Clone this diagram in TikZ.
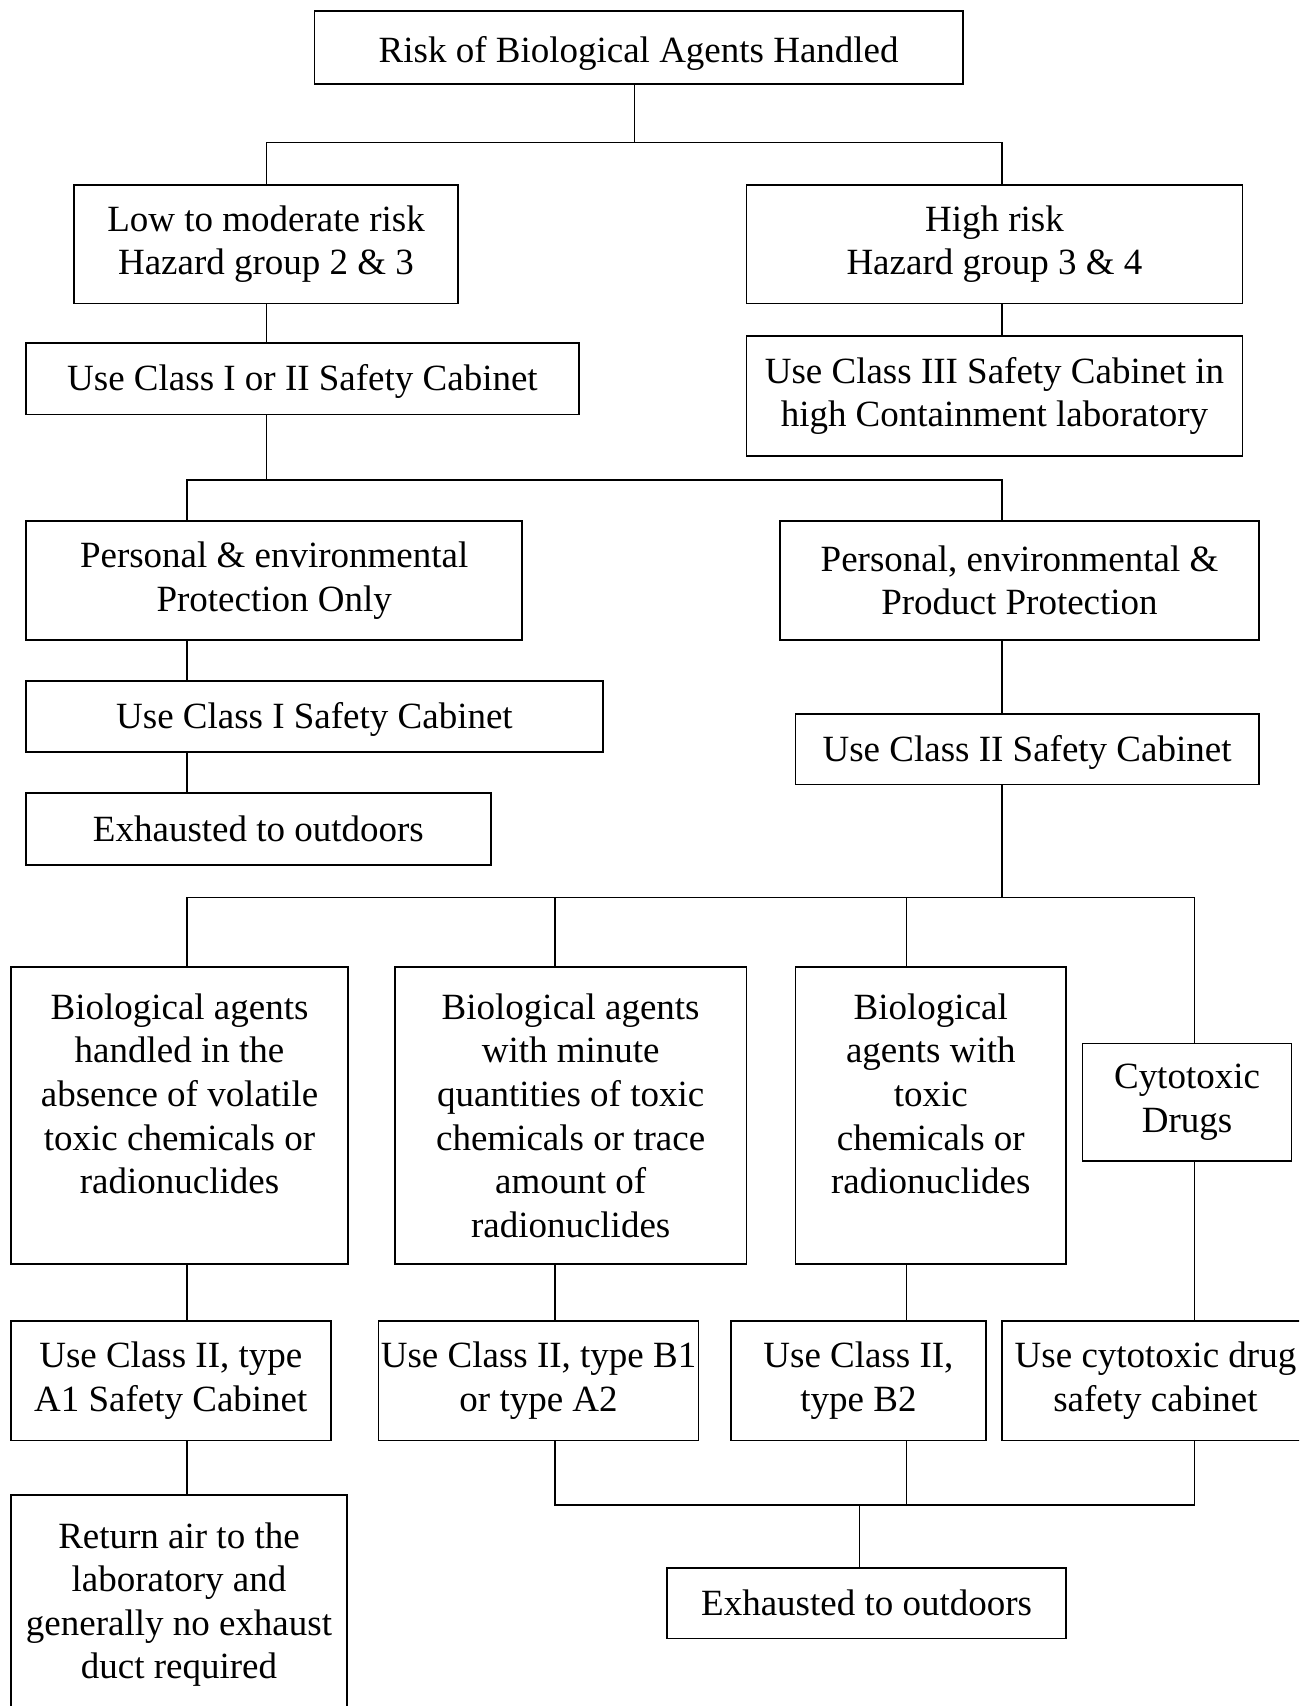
\documentclass[tikz,border=0pt]{standalone}
\usepackage{fontspec}
\setmainfont{Liberation Serif}
\newcommand{\bodyfont}{\fontsize{17pt}{20pt}\selectfont}
\tikzset{
  bx/.style={draw, line width=0.75pt, inner sep=0pt, align=center, font=\bodyfont},
  one/.style={text height=12.5pt, text depth=1.5pt},
  txt/.style={inner sep=0pt, align=center, font=\bodyfont, anchor=north},
  conn/.style={line width=0.75pt}
}
\begin{document}
\begin{tikzpicture}[x=0.5pt, y=-0.5pt]
\path[use as bounding box, clip] (0,0) rectangle (1194,1568);
\fill[white] (0,0) rectangle (1194,1568);

% boxes
\node[bx, text height=14.2pt, text depth=0pt, minimum width=298pt, minimum height=33.5pt] (top) at (587,43.5) {Risk of Biological Agents Handled};
\node[bx, minimum width=176.5pt, minimum height=54.5pt] (low) at (244.5,224.5) {Low to moderate risk\\Hazard group 2 \& 3};
\node[bx, minimum width=228pt, minimum height=54.5pt] (high) at (914,224.5) {High risk\\Hazard group 3 \& 4};
\node[bx, one, minimum width=254pt, minimum height=33pt] (c12) at (278,348) {Use Class I or II Safety Cabinet};
\node[bx, minimum width=228pt, minimum height=55pt] (c3) at (914,364) {Use Class III Safety Cabinet in\\high Containment laboratory};
\node[bx, minimum width=228pt, minimum height=54.5pt] (pers) at (252,533.5) {Personal \& environmental\\Protection Only};
\node[bx, minimum width=220pt, minimum height=54.5pt] (pers2) at (937,533.5) {Personal, environmental \&\\Product Protection};
\node[bx, one, minimum width=265pt, minimum height=32.5pt] (c1) at (289,658.5) {Use Class I Safety Cabinet};
\node[bx, one, minimum width=213pt, minimum height=32.5pt] (c2) at (944,688.5) {Use Class II Safety Cabinet};
\node[bx, one, minimum width=213.5pt, minimum height=33pt] (exh1) at (237.5,762) {Exhausted to outdoors};

\node[bx, minimum width=155pt, minimum height=136.5pt] (bio1) at (165,1025.5) {};
\node[txt] (bio1t) at (165,913) {Biological agents\\handled in the\\absence of volatile\\toxic chemicals or\\radionuclides};
\node[bx, minimum width=161.5pt, minimum height=136.5pt] (bio2) at (524.5,1025.5) {};
\node[txt] (bio2t) at (524.5,913) {Biological agents\\with minute\\quantities of toxic\\chemicals or trace\\amount of\\radionuclides};
\node[bx, minimum width=124.5pt, minimum height=136.5pt] (bio3) at (855.5,1025.5) {};
\node[txt] (bio3t) at (855.5,913) {Biological\\agents with\\toxic\\chemicals or\\radionuclides};
\node[bx, minimum width=96pt, minimum height=54pt] (cyto) at (1091,1013) {Cytotoxic\\Drugs};

\node[bx, minimum width=147pt, minimum height=55pt] (a1) at (157,1269) {Use Class II, type\\A1 Safety Cabinet};
\node[bx, minimum width=147pt, minimum height=55pt] (b1) at (495,1269) {Use Class II, type B1\\or type A2};
\node[bx, minimum width=117pt, minimum height=55pt] (b2) at (789,1269) {Use Class II,\\type B2};
\node[bx, minimum width=141pt, minimum height=55pt] (ccab) at (1062,1269) {Use cytotoxic drug\\safety cabinet};

\node[bx, minimum width=154.5pt, minimum height=123pt] (ret) at (164.5,1497) {};
\node[txt] (rett) at (164.5,1399) {Return air to the\\laboratory and\\generally no exhaust\\duct required};
\node[bx, one, minimum width=183.5pt, minimum height=32.5pt] (exh2) at (796.5,1473.5) {Exhausted to outdoors};

% connector positions
\coordinate (xa) at (583,0);
\coordinate (xb) at (245,0);
\coordinate (xc) at (921,0);
\coordinate (xd) at (172,0);
\coordinate (xe) at (510,0);
\coordinate (xf) at (833,0);
\coordinate (xg) at (1098,0);
\coordinate (xh) at (790,0);
\coordinate (ya) at (0,131);
\coordinate (yb) at (0,441);
\coordinate (yc) at (0,825);
\coordinate (yd) at (0,1383);

% connectors
\draw[conn] (top.south -| xa) -- (xa |- ya);
\draw[conn] (low.north -| xb) |- (ya -| xc) -- (high.north -| xc);
\draw[conn] (low.south -| xb) -- (c12.north -| xb);
\draw[conn] (high.south -| xc) -- (c3.north -| xc);
\draw[conn] (c12.south -| xb) -- (xb |- yb);
\draw[conn] (pers.north -| xd) |- (yb -| xc) -- (pers2.north -| xc);
\draw[conn] (pers.south -| xd) -- (c1.north -| xd);
\draw[conn] (c1.south -| xd) -- (exh1.north -| xd);
\draw[conn] (pers2.south -| xc) -- (c2.north -| xc);
\draw[conn] (c2.south -| xc) -- (xc |- yc);
\draw[conn] (bio1.north -| xd) |- (yc -| xg) -- (cyto.north -| xg);
\draw[conn] (bio2.north -| xe) -- (xe |- yc);
\draw[conn] (bio3.north -| xf) -- (xf |- yc);
\draw[conn] (bio1.south -| xd) -- (a1.north -| xd);
\draw[conn] (a1.south -| xd) -- (ret.north -| xd);
\draw[conn] (bio2.south -| xe) -- (b1.north -| xe);
\draw[conn] (bio3.south -| xf) -- (b2.north -| xf);
\draw[conn] (cyto.south -| xg) -- (ccab.north -| xg);
\draw[conn] (b1.south -| xe) |- (yd -| xg) -- (ccab.south -| xg);
\draw[conn] (b2.south -| xf) -- (xf |- yd);
\draw[conn] (xh |- yd) -- (exh2.north -| xh);
\end{tikzpicture}
\end{document}
